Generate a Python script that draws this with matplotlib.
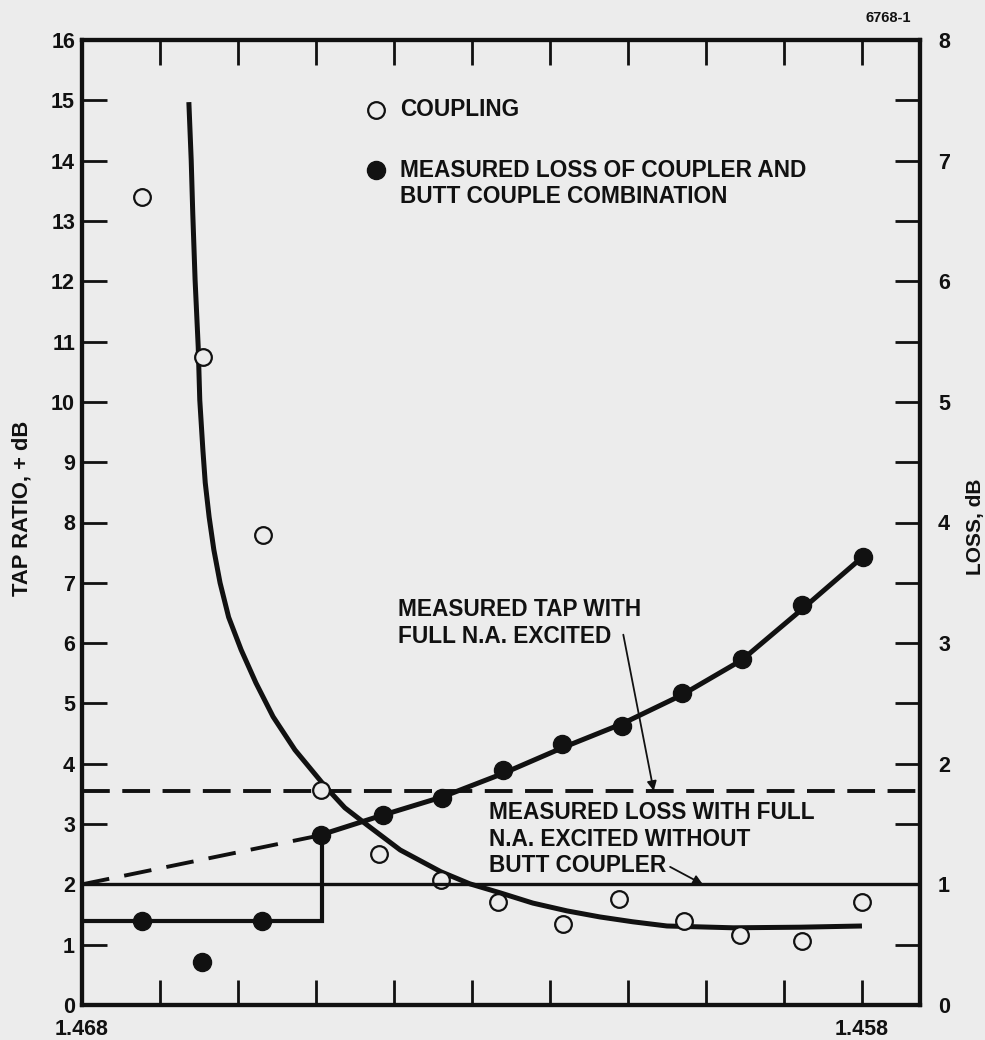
import matplotlib
matplotlib.use("Agg")
import matplotlib.pyplot as plt

plt.rcParams["font.family"] = ["Liberation Sans", "DejaVu Sans"]
plt.rcParams["font.weight"] = "bold"
plt.rcParams["lines.scale_dashes"] = False

# Coupling (tap ratio, dB) vs index
coupling_x = [1.46723, 1.46645, 1.46568, 1.46494, 1.46419, 1.46340, 1.46267,
              1.46183, 1.46112, 1.46028, 1.45956, 1.45877, 1.45800]
coupling_tap = [13.4, 10.75, 7.8, 3.57, 2.50, 2.07, 1.71,
                1.34, 1.76, 1.39, 1.16, 1.06, 1.71]

# Measured loss of coupler + butt couple combination (dB)
loss_x = [1.46723, 1.46646, 1.46569, 1.46494, 1.46414, 1.46338, 1.46260,
          1.46185, 1.46108, 1.46031, 1.45954, 1.45877, 1.45799]
loss_db = [0.70, 0.36, 0.70, 1.41, 1.575, 1.72, 1.95,
           2.16, 2.31, 2.59, 2.87, 3.32, 3.71]

# Faired curve through the coupling points
tap_curve_x = [1.46663, 1.46660, 1.46658, 1.46655, 1.46651, 1.46649, 1.46645,
               1.46642, 1.46637, 1.46631, 1.46623, 1.46612, 1.46596, 1.46577,
               1.46555, 1.46527, 1.46488, 1.46463, 1.46435, 1.46392, 1.46340,
               1.46303, 1.46264, 1.46222, 1.46178, 1.46136, 1.46094, 1.46050,
               1.45965, 1.45879, 1.45800]
tap_curve = [14.97, 14.01, 13.13, 12.02, 10.91, 10.03, 9.20,
             8.66, 8.09, 7.55, 7.00, 6.43, 5.89, 5.34,
             4.78, 4.23, 3.62, 3.27, 2.99, 2.57, 2.21,
             2.01, 1.86, 1.69, 1.56, 1.46, 1.38, 1.31,
             1.28, 1.29, 1.31]

# Faired curve through the loss points
loss_curve_x = [1.46494, 1.46414, 1.46338, 1.46260, 1.46185,
                1.46108, 1.46031, 1.45954, 1.45877, 1.45800]
loss_curve = [1.41, 1.575, 1.725, 1.92, 2.13, 2.33, 2.57, 2.86, 3.28, 3.71]

# Step at the low-index end and its dashed extension
step_x = [1.468, 1.46492, 1.46492]
step_loss = [0.70, 0.70, 1.41]
ext_x = [1.468, 1.46492]
ext_loss = [1.0, 1.41]

tap_full_na = 3.55        # measured tap with full N.A. excited
loss_no_butt = 1.0        # measured loss without butt coupler

x_ticks = [1.468, 1.467, 1.466, 1.465, 1.464, 1.463, 1.462, 1.461, 1.460, 1.459, 1.458]
x_ticklabels = ["1.468", "", "", "", "", "", "", "", "", "", "1.458"]

bg = "#ececec"
ink = "#111111"

fig = plt.figure(figsize=(9.85, 10.4), dpi=100, facecolor=bg)
ax = fig.add_axes([82 / 985, 35 / 1040, 838 / 985, 965 / 1040])
ax.set_facecolor(bg)
ax2 = ax.twinx()

ax.set_xlim(1.468, 1.457256)
ax.set_ylim(0, 16)
ax2.set_ylim(0, 8)

for a in (ax, ax2):
    for s in a.spines.values():
        s.set_linewidth(3.0)
        s.set_color(ink)

ax.set_yticks(range(17))
ax.tick_params(axis="y", direction="in", length=18, width=2.0, labelsize=15.5, pad=5,
               colors=ink)
ax.set_xticks(x_ticks)
ax.set_xticklabels(x_ticklabels)
ax.tick_params(axis="x", direction="in", top=True, length=18, width=2.0, labelsize=15.5,
               pad=10, colors=ink)

ax2.set_yticks(range(9))
ax2.set_yticks([i + 0.5 for i in range(8)], minor=True)
ax2.tick_params(axis="y", which="both", direction="in", length=18, width=2.0,
                labelsize=15.5, pad=13, colors=ink)

# reference lines
ax.axhline(tap_full_na, color=ink, lw=2.8, linestyle=(0, (20, 9)), zorder=2)
ax2.axhline(loss_no_butt, color=ink, lw=2.4, zorder=2)

# faired curves
ax.plot(tap_curve_x, tap_curve, color=ink, lw=3.6, solid_capstyle="butt",
        solid_joinstyle="round", zorder=3)
ax2.plot(loss_curve_x, loss_curve, color=ink, lw=3.6, solid_joinstyle="round", zorder=3)
ax2.plot(step_x, step_loss, color=ink, lw=3.0, solid_joinstyle="miter", zorder=3)
ax2.plot(ext_x, ext_loss, color=ink, lw=2.8, linestyle=(0, (20, 11)), zorder=3)

# data points
ax2.plot(loss_x, loss_db, "o", ms=13, color=ink, zorder=5)
ax.plot(coupling_x, coupling_tap, "o", ms=12, mfc=bg, mec=ink, mew=1.6, zorder=6)

# key
ax.plot([1.46423], [14.84], "o", ms=12, mfc=bg, mec=ink, mew=1.6, clip_on=False)
ax.plot([1.46423], [13.85], "o", ms=13, color=ink, clip_on=False)
ax.text(1.46392, 14.84, "COUPLING", fontsize=16.3, va="center", ha="left", color=ink)
ax.text(1.46392, 13.62, "MEASURED LOSS OF COUPLER AND\nBUTT COUPLE COMBINATION",
        fontsize=16.3, va="center", ha="left", linespacing=1.2, color=ink)

# callouts
ax.text(1.46395, 6.33, "MEASURED TAP WITH\nFULL N.A. EXCITED", fontsize=16.3,
        va="center", ha="left", linespacing=1.2, color=ink)
ax.annotate("", xy=(1.46067, tap_full_na), xytext=(1.46106, 6.14),
            arrowprops=dict(arrowstyle="-|>", lw=1.3, color=ink, mutation_scale=14,
                            shrinkA=0, shrinkB=0))
ax.text(1.46278, 2.75, "MEASURED LOSS WITH FULL\nN.A. EXCITED WITHOUT\nBUTT COUPLER",
        fontsize=16.3, va="center", ha="left", linespacing=1.2, color=ink)
ax.annotate("", xy=(1.46004, 2.0), xytext=(1.46046, 2.29),
            arrowprops=dict(arrowstyle="-|>", lw=1.3, color=ink, mutation_scale=14,
                            shrinkA=0, shrinkB=0))

# axis titles and figure number
fig.text(22 / 985, 1 - 508 / 1040, "TAP RATIO, + dB", rotation=90, fontsize=15.8,
         ha="center", va="center", color=ink)
fig.text(975 / 985, 1 - 527 / 1040, "LOSS, dB", rotation=90, fontsize=15,
         ha="center", va="center", color=ink)
fig.text(888 / 985, 1 - 18 / 1040, "6768-1", fontsize=10.5, ha="center", va="center",
         color=ink)

fig.savefig("out.png", dpi=100, facecolor=bg)
